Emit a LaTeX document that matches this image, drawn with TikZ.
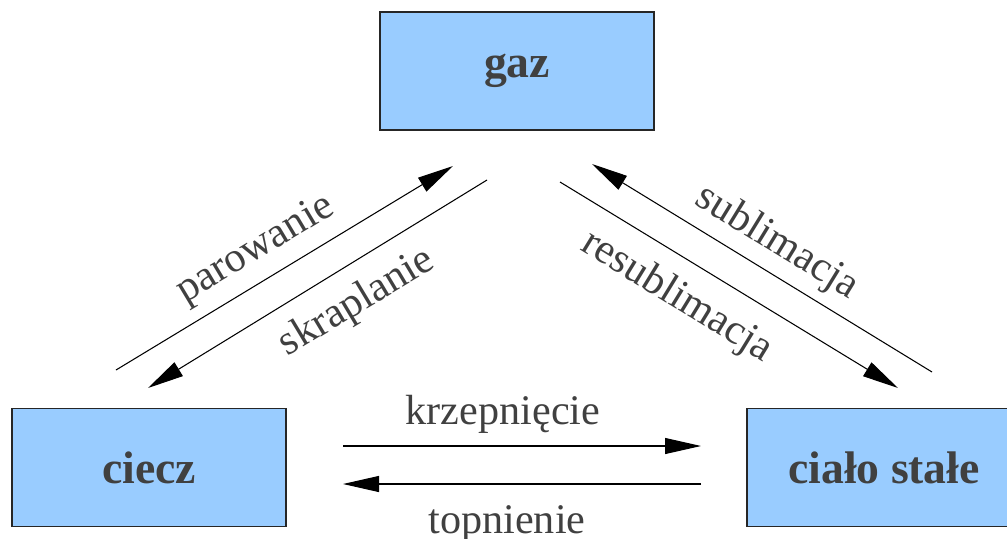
\documentclass[tikz,border=0pt]{standalone}
\usepackage{fontspec}
\setmainfont{Liberation Serif}
\usetikzlibrary{arrows.meta}
\newcommand{\phasefont}{\linespread{1}\fontsize{26}{30}\selectfont\bfseries}
\newcommand{\phaselabelfont}{\linespread{1}\fontsize{24}{28}\selectfont}
\definecolor{phasefill}{HTML}{99CCFF}
\definecolor{phasetext}{HTML}{404040}
\tikzset{
    phase/chart/.style={every node/.style={align=center}},
    phase/box/.style={rectangle, draw=black!85, fill=phasefill, line width=0.6pt, minimum width=5.48cm, minimum height=2.36cm, inner sep=0pt, font=\phasefont, text=phasetext},
    phase/arrow/.style={-{Triangle[length=0.72cm,width=0.32cm]}, line width=0.6pt, draw=black},
    phase/label/.style={font=\phaselabelfont, text=phasetext, inner sep=0pt}
}
\begin{document}
\begin{tikzpicture}[phase/chart]
    \useasboundingbox (0,0) rectangle (20.14,-10.76);
    \clip (0,0) rectangle (20.14,-10.76);
    \node[phase/box] (gaz) at (10.34,-1.42) {gaz};
    \node[phase/box] (ciecz) at (2.98,-9.35) {ciecz};
    \node[phase/box] (stale) at (17.68,-9.35) {ciało stałe};
    % arrow ends
    \coordinate (parA) at (2.32,-7.40);  \coordinate (parB) at (9.06,-3.32);
    \coordinate (skrA) at (9.74,-3.60);  \coordinate (skrB) at (2.96,-7.76);
    \coordinate (subA) at (18.64,-7.44); \coordinate (subB) at (11.84,-3.28);
    \coordinate (resA) at (11.20,-3.64); \coordinate (resB) at (17.96,-7.76);
    \coordinate (krzA) at (6.86,-8.92);  \coordinate (krzB) at (14.02,-8.92);
    \coordinate (topA) at (14.02,-9.68); \coordinate (topB) at (6.86,-9.68);
    \foreach \source/\target in {parA/parB,skrA/skrB,subA/subB,resA/resB,krzA/krzB,topA/topB}
        \draw[phase/arrow] (\source) -- (\target);
    \node[phase/label, rotate=31] (parowanie) at (5.12,-5.00) {parowanie};
    \node[phase/label, rotate=31] (skraplanie) at (7.14,-6.06) {skraplanie};
    \node[phase/label, rotate=-31.5] (sublimacja) at (15.54,-4.86) {sublimacja};
    \node[phase/label, rotate=-31.5] (resublimacja) at (13.54,-5.94) {resublimacja};
    \node[phase/label] (krzepniecie) at (10.06,-8.28) {krzepnięcie};
    \node[phase/label] (topnienie) at (10.14,-10.48) {topnienie};
\end{tikzpicture}
\end{document}
